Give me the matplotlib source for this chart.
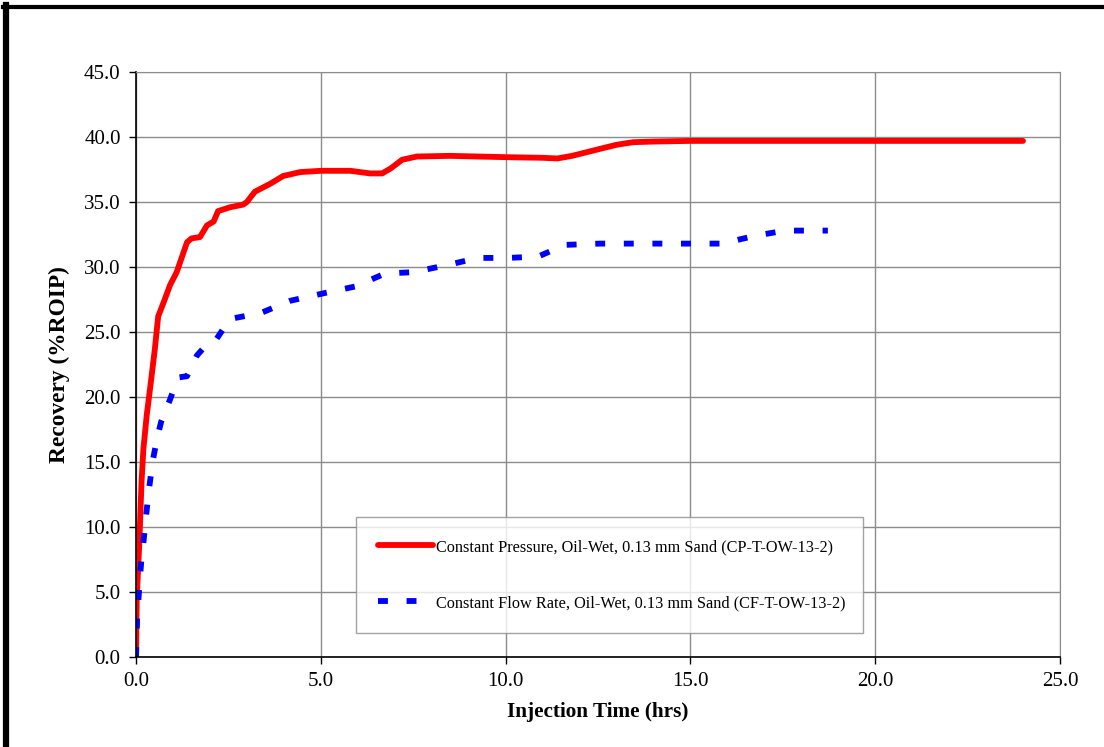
import matplotlib
matplotlib.use("Agg")
import matplotlib.pyplot as plt
from matplotlib.lines import Line2D

# Constant pressure run (CP-T-OW-13-2)
cp_time = [0, 0.02, 0.09, 0.15, 0.2, 0.29, 0.4, 0.51, 0.6, 0.75, 0.92, 1.1, 1.38, 1.5,
           1.73, 1.92, 2.1, 2.22, 2.55, 2.9, 3.0, 3.22, 3.63, 3.98, 4.44, 5.0, 5.8,
           6.33, 6.66, 6.9, 7.2, 7.6, 8.5, 10.0, 11.0, 11.4, 11.8, 12.5, 13.0, 13.45,
           14.0, 15.0, 17.0, 18.5, 20.0, 22.0, 24.0]
cp_recovery = [0, 4.5, 8.8, 13.5, 16.0, 18.6, 21.1, 23.7, 26.2, 27.3, 28.6, 29.6, 31.9, 32.2,
               32.3, 33.2, 33.5, 34.3, 34.6, 34.8, 35.0, 35.8, 36.4, 37.0, 37.3, 37.4, 37.4,
               37.2, 37.2, 37.6, 38.25, 38.5, 38.55, 38.45, 38.4, 38.35, 38.55, 39.05, 39.4, 39.6,
               39.65, 39.7, 39.7, 39.7, 39.7, 39.7, 39.7]

# Constant flow rate run (CF-T-OW-13-2)
cf_time = [0, 0.03, 0.08, 0.14, 0.19, 0.27, 0.35, 0.46, 0.57, 0.68, 0.92, 1.14, 1.38,
           1.65, 1.87, 2.14, 2.54, 2.9, 3.41, 4.17, 5.11, 5.93, 6.74, 7.5, 8.5, 9.25,
           10.06, 10.88, 11.6, 12.55, 14.2, 15.85, 16.75, 17.56, 18.72]
cf_recovery = [0, 2.9, 5.0, 7.3, 8.5, 10.8, 12.9, 15.2, 16.8, 18.1, 19.8, 21.5, 21.6,
               23.2, 23.9, 24.3, 26.0, 26.2, 26.5, 27.4, 28.0, 28.5, 29.5, 29.6, 30.2, 30.7,
               30.7, 30.8, 31.7, 31.8, 31.8, 31.8, 32.4, 32.8, 32.8]

cp_label = "Constant Pressure, Oil-Wet, 0.13 mm Sand (CP-T-OW-13-2)"
cf_label = "Constant Flow Rate, Oil-Wet, 0.13 mm Sand (CF-T-OW-13-2)"

plt.rcParams['font.family'] = ['Liberation Serif', 'DejaVu Serif']

fig = plt.figure(figsize=(11.04, 7.47), dpi=100)
ax = fig.add_axes([0.1232, 0.1205, 0.8369, 0.7831])

ax.plot(cp_time, cp_recovery, color='#ff0000', linewidth=4.2,
        solid_capstyle='round', solid_joinstyle='round', label=cp_label)
ax.plot(cf_time, cf_recovery, color='#0000ff', linewidth=4.2,
        dashes=(1.7, 3.2), dash_capstyle='butt', label=cf_label)

ax.set_xlim(0, 25)
ax.set_ylim(0, 45)
ax.set_xticks([0, 5, 10, 15, 20, 25])
ax.set_yticks(range(0, 50, 5))
ax.set_xticklabels([f"{v:.1f}" for v in ax.get_xticks()], fontsize=15)
ax.set_yticklabels([f"{v:.1f}" for v in ax.get_yticks()], fontsize=15)
ax.tick_params(direction='out', length=5, width=1, color='black', pad=6)

ax.grid(True, color='#8c8c8c', linewidth=1)
ax.set_axisbelow(True)
for side in ['top', 'right']:
    ax.spines[side].set_color('#8c8c8c')
for side in ['left', 'bottom']:
    ax.spines[side].set_color('black')
    ax.spines[side].set_linewidth(1.2)

ax.set_xlabel('Injection Time (hrs)', fontsize=15.3, fontweight='bold', labelpad=8)
ax.set_ylabel('Recovery (%ROIP)', fontsize=16.8, fontweight='bold', labelpad=10)

leg = ax.legend(loc='upper left', bbox_to_anchor=(0.238, 0.239, 0.549, 0.0),
                mode='expand', fontsize=11.7, frameon=True, fancybox=False,
                handlelength=3.4, handletextpad=0.15, labelspacing=2.45,
                borderpad=1.35, borderaxespad=0)
leg.get_frame().set_edgecolor('#8c8c8c')
leg.get_frame().set_linewidth(1)

# outer frame (top and left edges visible)
fig.add_artist(Line2D([0.003, 1.0], [1 - 7 / 747, 1 - 7 / 747], color='black',
                      linewidth=3, transform=fig.transFigure))
fig.add_artist(Line2D([6 / 1104, 6 / 1104], [0, 1 - 5 / 747], color='black',
                      linewidth=4.5, transform=fig.transFigure))

plt.savefig('out.png', dpi=100)
